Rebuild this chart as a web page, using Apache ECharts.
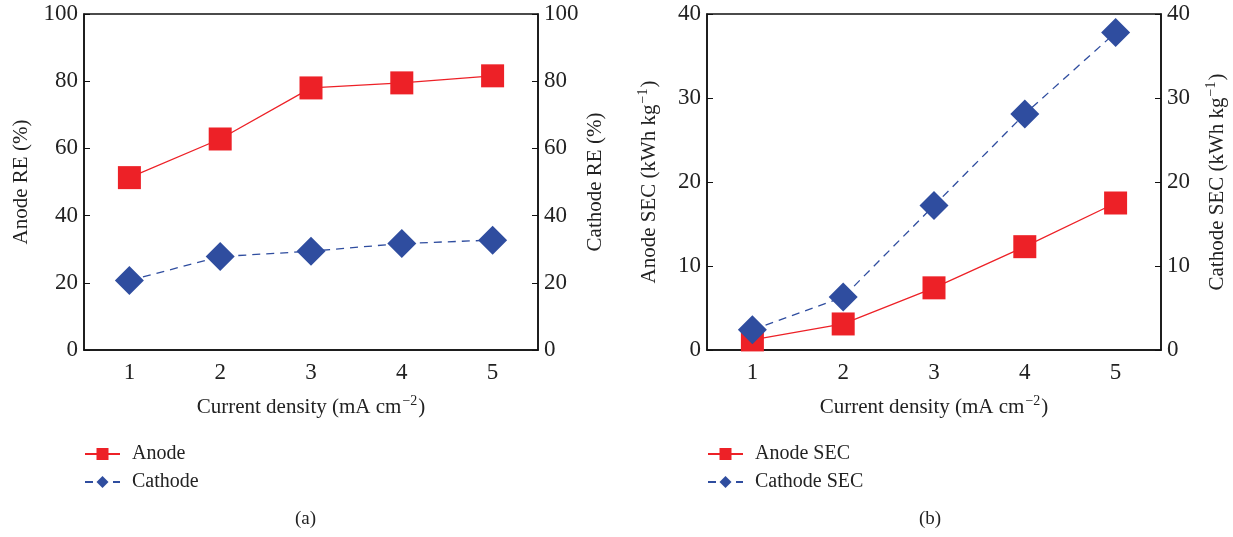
<!DOCTYPE html>
<html>
<head>
<meta charset="utf-8">
<script src="https://cdn.jsdelivr.net/npm/echarts@6/dist/echarts.min.js"></script>
<style>
  html, body { margin: 0; padding: 0; background: #fff; }
  #chart { width: 1233px; height: 537px; }
</style>
</head>
<body>
<div id="chart"></div>
<script>
// current density categories (mA cm-2)
const densities = ['1', '2', '3', '4', '5'];

// (a) removal efficiency, %
const anodeRE = [51.3, 62.8, 78.0, 79.5, 81.6];
const cathodeRE = [20.7, 27.8, 29.4, 31.7, 32.7];

// (b) specific energy consumption, kWh kg-1
const anodeSEC = [1.2, 3.1, 7.4, 12.3, 17.5];
const cathodeSEC = [2.4, 6.3, 17.2, 28.1, 37.8];

const RED = '#ed2127';
const BLUE = '#2f4d9f';
const FONT = '"Liberation Serif", "DejaVu Serif", serif';

const chart = echarts.init(document.getElementById('chart'), null, { renderer: 'canvas' });

const supRich = {
  sup: { fontSize: 14, fontFamily: FONT, color: '#222', padding: [0, 1, 12, 1] }
};

function xAxis(grid) {
  return {
    type: 'category',
    gridIndex: grid,
    data: densities,
    boundaryGap: true,
    name: 'Current density (mA cm{sup|−2})',
    nameLocation: 'middle',
    nameGap: 44,
    nameTextStyle: { fontFamily: FONT, fontSize: 21, color: '#222', rich: supRich },
    axisLine: { lineStyle: { color: '#111', width: 1.5 } },
    axisTick: { inside: true, length: 6, lineStyle: { color: '#111', width: 1 } },
    axisLabel: { fontFamily: FONT, fontSize: 23, color: '#222', margin: 11 },
    splitLine: { show: false }
  };
}

function yAxis(grid, pos, max, step, name, gap) {
  return {
    type: 'value',
    gridIndex: grid,
    position: pos,
    min: 0,
    max: max,
    interval: step,
    name: name,
    nameLocation: 'middle',
    nameRotate: 90,
    nameGap: gap,
    nameTextStyle: { fontFamily: FONT, fontSize: 21, color: '#222', rich: supRich },
    axisLine: { show: true, lineStyle: { color: '#111', width: 1.5 } },
    axisTick: { show: true, inside: true, length: 6, lineStyle: { color: '#111', width: 1 } },
    axisLabel: { fontFamily: FONT, fontSize: 23, color: '#222', margin: 6 },
    splitLine: { show: false }
  };
}

function lineSeries(name, data, xi, yi, color, dashed, symbol, size) {
  return {
    name: name,
    type: 'line',
    xAxisIndex: xi,
    yAxisIndex: yi,
    data: data,
    symbol: symbol,
    symbolSize: size,
    color: color,
    itemStyle: { color: color },
    lineStyle: { color: color, width: 1.3, type: dashed ? [8, 6] : 'solid' },
    animation: false
  };
}

const option = {
  backgroundColor: '#fff',
  textStyle: { fontFamily: FONT },
  grid: [
    { left: 84, right: 695, top: 14, bottom: 187, show: true, borderColor: '#111', borderWidth: 1.5, backgroundColor: 'transparent' },
    { left: 707, right: 72, top: 14, bottom: 187, show: true, borderColor: '#111', borderWidth: 1.5, backgroundColor: 'transparent' }
  ],
  xAxis: [xAxis(0), xAxis(1)],
  yAxis: [
    yAxis(0, 'left', 100, 20, 'Anode RE (%)', 52),
    yAxis(0, 'right', 100, 20, 'Cathode RE (%)', 47),
    yAxis(1, 'left', 40, 10, 'Anode SEC (kWh kg{sup|−1})', 45),
    yAxis(1, 'right', 40, 10, 'Cathode SEC (kWh kg{sup|−1})', 43)
  ],
  legend: [
    {
      data: ['Anode', 'Cathode'],
      orient: 'vertical',
      left: 84, top: 444, padding: 0,
      itemWidth: 35, itemHeight: 15, itemGap: 8,
      textStyle: { fontFamily: FONT, fontSize: 20, color: '#222', padding: [0, 0, 0, 7] }
    },
    {
      data: ['Anode SEC', 'Cathode SEC'],
      orient: 'vertical',
      left: 707, top: 444, padding: 0,
      itemWidth: 35, itemHeight: 15, itemGap: 8,
      textStyle: { fontFamily: FONT, fontSize: 20, color: '#222', padding: [0, 0, 0, 7] }
    }
  ],
  graphic: [
    { type: 'text', left: 295, top: 510, style: { text: '(a)', font: '19px ' + FONT, fill: '#222' } },
    { type: 'text', left: 919, top: 510, style: { text: '(b)', font: '19px ' + FONT, fill: '#222' } }
  ],
  series: [
    lineSeries('Anode', anodeRE, 0, 0, RED, false, 'rect', 23),
    lineSeries('Cathode', cathodeRE, 0, 1, BLUE, true, 'diamond', 29),
    lineSeries('Anode SEC', anodeSEC, 1, 2, RED, false, 'rect', 23),
    lineSeries('Cathode SEC', cathodeSEC, 1, 3, BLUE, true, 'diamond', 29)
  ]
};

chart.setOption(option);
window.addEventListener('resize', chart.resize);
</script>
</body>
</html>
